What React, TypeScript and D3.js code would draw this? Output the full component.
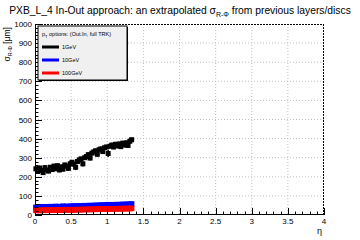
import React from "react";
import * as d3 from "d3";

const etaBins = [0.0125,0.0375,0.0625,0.0875,0.1125,0.1375,0.1625,0.1875,0.2125,0.2375,0.2625,0.2875,0.3125,0.3375,0.3625,0.3875,0.4125,0.4375,0.4625,0.4875,0.5125,0.5375,0.5625,0.5875,0.6125,0.6375,0.6625,0.6875,0.7125,0.7375,0.7625,0.7875,0.8125,0.8375,0.8625,0.8875,0.9125,0.9375,0.9625,0.9875,1.0125,1.0375,1.0625,1.0875,1.1125,1.1375,1.1625,1.1875,1.2125,1.2375,1.2625,1.2875,1.3125,1.3375];

const sigma1GeV = [242,228,246,234,222,248,236,230,250,238,256,242,258,236,252,240,262,256,244,268,276,266,250,280,288,294,268,300,306,316,298,324,330,336,318,342,346,332,352,356,322,360,366,356,370,362,372,358,376,366,378,364,386,394];
const err1GeV = [12,11,12,12,13,11,12,12,11,12,12,11,12,13,12,12,11,12,13,12,12,11,15,12,12,11,14,12,11,12,13,12,12,12,13,12,12,11,12,12,18,12,12,12,13,12,11,12,12,11,12,12,12,12];

const sigma10GeV = [40,42,39,43,41,42,43,40,44,43,42,45,43,44,42,46,44,45,43,46,45,47,46,45,48,46,47,49,47,48,50,48,49,51,49,50,52,50,51,53,51,52,54,52,53,55,53,54,56,54,55,57,55,58];
const sigma100GeV = [24,25,23,26,24,25,26,24,26,25,27,25,26,27,25,27,26,28,26,27,28,26,28,29,27,28,30,28,29,30,28,30,31,29,30,32,30,31,32,30,32,33,31,32,33,32,33,34,32,34,33,35,33,35];

const xTicks = [0, 0.5, 1, 1.5, 2, 2.5, 3, 3.5, 4];
const xTickLabels = ["0", "0.5", "1", "1.5", "2", "2.5", "3", "3.5", "4"];
const yTicks = [0, 100, 200, 300, 400, 500, 600, 700, 800, 900, 1000];
const legendLabels = ["1GeV", "10GeV", "100GeV"];
const legendColors = ["#000000", "#0000ff", "#ff0000"];

const W = 360, H = 240;
const L = 35, R = 324, T = 24, B = 215;
const font = "'Liberation Sans', Arial, Helvetica, sans-serif";

export default function App() {
  const x = d3.scaleLinear().domain([0, 4]).range([L, R]);
  const y = d3.scaleLinear().domain([0, 1000]).range([B, T]);

  const xMinor = d3.range(0, 4.0001, 0.1);
  const yMinor = d3.range(0, 1000.001, 20);
  const xGrid = xTicks.filter((v) => v > 0 && v < 4);
  const yGrid = yTicks.filter((v) => v > 0 && v < 1000);

  const renderSeries = (vals: number[], errs: number[] | null, color: string, key: string, ms: number, errW: number) => (
    <g key={key}>
      {vals.map((v, i) => (
        <g key={i}>
          {errs && (
            <line x1={x(etaBins[i])} x2={x(etaBins[i])} y1={y(v - errs[i])} y2={y(v + errs[i])} stroke={color} strokeWidth={errW} />
          )}
          <rect x={x(etaBins[i]) - ms / 2} y={y(v) - ms / 2} width={ms} height={ms} fill={color} />
        </g>
      ))}
    </g>
  );

  return (
    <svg width={W} height={H} style={{ position: "absolute", left: 0, top: 0, background: "#fff" }} fontFamily={font}>
      <rect x={0} y={0} width={W} height={H} fill="#fff" />
      <text x={180} y={14} textAnchor="middle" fontSize={10.3} fill="#000">
        PXB_L_4 In-Out approach: an extrapolated σ
        <tspan fontSize={7} dy={3}>R-Φ</tspan>
        <tspan dy={-3}> from previous layers/discs</tspan>
      </text>

      {xGrid.map((v) => (
        <line key={"gx" + v} x1={x(v)} x2={x(v)} y1={T} y2={B} stroke="#c0c0c0" strokeWidth={1} strokeDasharray="1,2" />
      ))}
      {yGrid.map((v) => (
        <line key={"gy" + v} x1={L} x2={R} y1={y(v)} y2={y(v)} stroke="#c0c0c0" strokeWidth={1} strokeDasharray="1,2" />
      ))}

      <line x1={L} x2={R} y1={T + 0.5} y2={T + 0.5} stroke="#000" strokeWidth={1} strokeDasharray="2,1" />
      <line x1={R - 0.5} x2={R - 0.5} y1={T} y2={B} stroke="#000" strokeWidth={1} strokeDasharray="2,1" />

      {renderSeries(sigma1GeV, err1GeV, "#000000", "s1", 5, 1.5)}
      {renderSeries(sigma10GeV, null, "#0000ff", "s10", 5.5, 1)}
      {renderSeries(sigma100GeV, null, "#ff0000", "s100", 5.5, 1)}

      <line x1={L + 0.5} x2={L + 0.5} y1={T} y2={B} stroke="#000" strokeWidth={1} />
      <line x1={L} x2={R} y1={B - 0.5} y2={B - 0.5} stroke="#000" strokeWidth={1} />
      {yMinor.map((v) => {
        const major = Math.abs(v % 100) < 1e-6;
        return <line key={"ty" + v} x1={L} x2={L + (major ? 7 : 3.5)} y1={Math.round(y(v)) + 0.5} y2={Math.round(y(v)) + 0.5} stroke="#000" strokeWidth={1} />;
      })}
      {xMinor.map((v, i) => {
        const major = i % 5 === 0;
        return <line key={"tx" + i} x1={Math.round(x(v)) + 0.5} x2={Math.round(x(v)) + 0.5} y1={B} y2={B - (major ? 7 : 3.5)} stroke="#000" strokeWidth={1} />;
      })}
      {yTicks.map((v) => (
        <text key={"ly" + v} x={L - 3} y={y(v) + 3} textAnchor="end" fontSize={8} fill="#000">{v}</text>
      ))}
      {xTicks.map((v, i) => (
        <text key={"lx" + v} x={x(v)} y={B + 9} textAnchor="middle" fontSize={8} fill="#000">{xTickLabels[i]}</text>
      ))}

      <text x={R - 2} y={234} textAnchor="end" fontSize={9} fill="#000">η</text>
      <text transform={`translate(10, ${T + 3}) rotate(-90)`} textAnchor="end" fontSize={8.5} fill="#000">
        σ<tspan fontSize={5.5} dy={2}>R-Φ</tspan><tspan dy={-2}> [μm]</tspan>
      </text>

      <rect x={39} y={27} width={89} height={54} fill="#000" />
      <rect x={38} y={26} width={89} height={54} fill="#f0f0f0" stroke="#000" strokeWidth={1} />
      <text x={42} y={36} fontSize={5.5} fill="#000">
        p<tspan fontSize={4} dy={1.5}>T</tspan><tspan dy={-1.5}> options: (Out.In, full TRK)</tspan>
      </text>
      {legendLabels.map((lab, i) => (
        <g key={lab}>
          <line x1={42} x2={59} y1={47 + i * 13} y2={47 + i * 13} stroke={legendColors[i]} strokeWidth={3} />
          <text x={62} y={49 + i * 13} fontSize={5.5} fill="#000">{lab}</text>
        </g>
      ))}
    </svg>
  );
}
